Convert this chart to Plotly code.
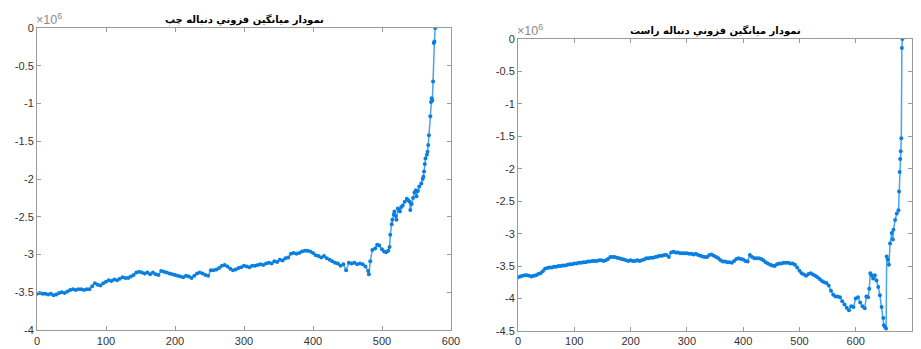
import plotly.graph_objects as go

# values are in units of 10^6
left_x = list(range(0, 481, 4)) + [481, 483, 486, 490, 493, 496, 500, 503, 506, 509, 511, 512, 514, 515, 517, 518, 520, 521, 523, 525, 526, 528, 530, 533, 536, 538, 540, 541, 543, 545, 547, 549, 550, 552, 554, 557, 559, 560, 561, 562, 563, 565, 566, 567, 568, 570, 571, 572, 573, 574, 575, 576, 577]
left_y = [
    -3.52, -3.51, -3.52, -3.52, -3.53, -3.52, -3.54, -3.53, -3.51, -3.50,
    -3.51, -3.49, -3.47, -3.46, -3.47, -3.46, -3.46, -3.47, -3.46, -3.46,
    -3.42, -3.38, -3.40, -3.41, -3.38, -3.36, -3.34, -3.35, -3.33, -3.34,
    -3.32, -3.30, -3.31, -3.31, -3.29, -3.27, -3.24, -3.23, -3.24, -3.25,
    -3.24, -3.26, -3.24, -3.26, -3.27, -3.22, -3.23, -3.24, -3.25, -3.26,
    -3.27, -3.28, -3.29, -3.30, -3.28, -3.29, -3.31, -3.28, -3.25, -3.24,
    -3.25, -3.27, -3.28, -3.21, -3.21, -3.20, -3.18, -3.15, -3.14, -3.16,
    -3.19, -3.21, -3.20, -3.18, -3.17, -3.15, -3.16, -3.17, -3.15, -3.15,
    -3.14, -3.13, -3.14, -3.12, -3.11, -3.12, -3.09, -3.10, -3.07, -3.08,
    -3.05, -3.04, -2.99, -2.98, -2.99, -2.98, -2.96, -2.95, -2.95, -2.96,
    -2.98, -3.01, -3.02, -3.04, -3.02, -3.05, -3.07, -3.09, -3.11, -3.12,
    -3.15, -3.13, -3.21, -3.11, -3.12, -3.11, -3.13, -3.12, -3.13, -3.16,
    -3.22,
    -3.26, -3.09, -2.94, -2.92, -2.87, -2.88, -2.93, -2.96, -2.97, -2.95,
    -2.90, -2.74, -2.60, -2.54, -2.47, -2.43, -2.49, -2.54, -2.39, -2.41,
    -2.43, -2.37, -2.35, -2.30, -2.26, -2.28, -2.30, -2.41, -2.33, -2.25,
    -2.18, -2.15, -2.23, -2.16, -2.10, -2.06, -2.00, -1.97, -1.90, -1.80,
    -1.73, -1.68, -1.64, -1.55, -1.42, -1.17, -0.98, -0.93, -0.96, -0.71,
    -0.20, -0.18, 0.0,
]

right_x = list(range(0, 617, 4)) + [619, 622, 624, 626, 628, 631, 634, 637, 640, 643, 646, 649, 650, 652, 654, 655, 657, 659, 661, 664, 666, 667, 670, 673, 676, 677, 678, 679, 680, 681, 682, 683]
right_y = [
    -3.67, -3.66, -3.65, -3.64, -3.64, -3.65, -3.66, -3.65, -3.64, -3.62,
    -3.61, -3.58, -3.54, -3.53, -3.52, -3.52, -3.51, -3.51, -3.50, -3.50,
    -3.49, -3.49, -3.48, -3.47, -3.47, -3.46, -3.46, -3.45, -3.45, -3.44,
    -3.44, -3.43, -3.43, -3.42, -3.42, -3.42, -3.41, -3.41, -3.42, -3.41,
    -3.39, -3.36, -3.36, -3.36, -3.37, -3.38, -3.39, -3.40, -3.41, -3.42,
    -3.41, -3.42, -3.42, -3.41, -3.42, -3.41, -3.40, -3.38, -3.38, -3.37,
    -3.37, -3.36, -3.35, -3.34, -3.34, -3.33, -3.33, -3.36, -3.29, -3.28,
    -3.29, -3.29, -3.30, -3.30, -3.30, -3.30, -3.31, -3.31, -3.32, -3.31,
    -3.33, -3.34, -3.35, -3.36, -3.36, -3.33, -3.32, -3.34, -3.36, -3.38,
    -3.41, -3.43, -3.43, -3.44, -3.44, -3.45, -3.42, -3.39, -3.38, -3.39,
    -3.40, -3.42, -3.43, -3.33, -3.36, -3.38, -3.38, -3.38, -3.39, -3.41,
    -3.44, -3.46, -3.48, -3.49, -3.50, -3.47, -3.46, -3.46, -3.45, -3.45,
    -3.45, -3.46, -3.46, -3.48, -3.52, -3.57, -3.61, -3.63, -3.65, -3.62,
    -3.61, -3.63, -3.65, -3.67, -3.70, -3.73, -3.75, -3.76, -3.80, -3.88,
    -3.94, -3.97, -3.97, -3.98, -4.04, -4.09, -4.14, -4.18, -4.12, -4.13,
    -4.00, -3.98, -4.06, -4.12, -4.15,
    -3.97, -3.98, -3.85, -3.61, -3.64, -3.69, -3.64, -3.72, -3.82, -3.95,
    -4.13, -4.30, -4.41, -4.44, -4.46, -3.35, -3.40, -3.48, -3.15, -2.99,
    -3.09, -2.94, -2.79, -2.69, -2.64, -2.35, -2.05, -1.85, -1.73, -1.53,
    -0.14, 0.0,
]

left_title = "نمودار میانگین فزوني دنباله چپ"
right_title = "نمودار میانگین فزوني دنباله راست"

left_yticks = [0, -0.5, -1, -1.5, -2, -2.5, -3, -3.5, -4]
right_yticks = [0, -0.5, -1, -1.5, -2, -2.5, -3, -3.5, -4, -4.5]
left_xticks = [0, 100, 200, 300, 400, 500, 600]
right_xticks = [0, 100, 200, 300, 400, 500, 600, 700]

W, H = 921, 349
LINE = "#4aa4ec"
MARK = "#0a7fe0"
AXC = "#9a9a9a"
TXT = "#333333"

fig = go.Figure()
fig.add_trace(go.Scatter(x=left_x, y=left_y, mode="lines+markers",
                         line=dict(color=LINE, width=1.5),
                         marker=dict(color=MARK, size=4),
                         xaxis="x", yaxis="y", showlegend=False))
fig.add_trace(go.Scatter(x=right_x, y=right_y, mode="lines+markers",
                         line=dict(color=LINE, width=1.5),
                         marker=dict(color=MARK, size=4),
                         xaxis="x2", yaxis="y2", showlegend=False))

def px_dom(a, b, total):
    return [a / total, b / total]

common = dict(showgrid=False, zeroline=False, showline=True, linecolor=AXC,
              linewidth=1, mirror="ticks", ticks="inside", ticklen=4,
              tickcolor=AXC, tickfont=dict(family="Liberation Sans, Arial", size=11, color=TXT),
              automargin=False, fixedrange=True)

def fmt(v):
    return "%g" % v

fig.update_layout(
    width=W, height=H,
    margin=dict(l=0, r=0, t=0, b=0),
    paper_bgcolor="white", plot_bgcolor="white",
    xaxis=dict(domain=px_dom(37, 451, W), range=[0, 600], anchor="y",
               tickvals=left_xticks, ticktext=[fmt(v) for v in left_xticks],
               ticklabelstandoff=1, **common),
    yaxis=dict(domain=[(H - 330) / H, (H - 28) / H], range=[-4, 0], anchor="x",
               tickvals=left_yticks, ticktext=[fmt(v) for v in left_yticks], **common),
    xaxis2=dict(domain=px_dom(518, 912, W), range=[0, 700], anchor="y2",
                tickvals=right_xticks, ticktext=[fmt(v) for v in right_xticks],
                ticklabelstandoff=0, **common),
    yaxis2=dict(domain=[(H - 331) / H, (H - 39) / H], range=[-4.5, 0], anchor="x2",
                tickvals=right_yticks, ticktext=[fmt(v) for v in right_yticks], **common),
    showlegend=False,
)

annos = [
    dict(text="<b>%s</b>" % left_title, x=244 / W, y=1 - 19 / H, xref="paper", yref="paper",
         xanchor="center", yanchor="middle", showarrow=False,
         font=dict(family="DejaVu Sans", size=10, color="#000000")),
    dict(text="<b>%s</b>" % right_title, x=715 / W, y=1 - 30 / H, xref="paper", yref="paper",
         xanchor="center", yanchor="middle", showarrow=False,
         font=dict(family="DejaVu Sans", size=10, color="#000000")),
    dict(text="×10<sup>6</sup>", x=34 / W, y=1 - 29 / H, xref="paper", yref="paper",
         xanchor="left", yanchor="bottom", showarrow=False,
         font=dict(family="Liberation Sans, Arial", size=12.5, color="#8a8a8a")),
    dict(text="×10<sup>6</sup>", x=515 / W, y=1 - 40 / H, xref="paper", yref="paper",
         xanchor="left", yanchor="bottom", showarrow=False,
         font=dict(family="Liberation Sans, Arial", size=12.5, color="#8a8a8a")),
]
fig.update_layout(annotations=annos)

fig.write_html("out.html", config={"displayModeBar": False},
               post_script="document.body.style.margin='0';document.body.style.overflow='hidden';")
